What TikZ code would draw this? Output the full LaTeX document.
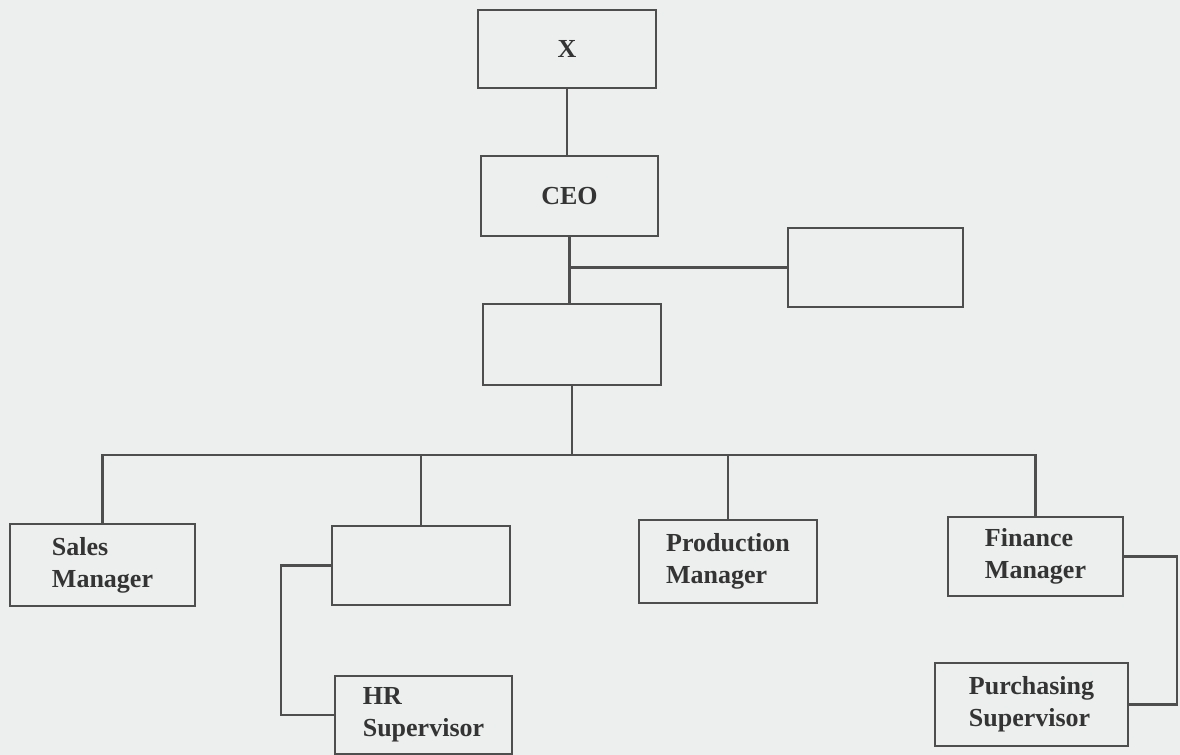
\documentclass[tikz,border=0pt]{standalone}
\usepackage{fontspec}
\setmainfont{Liberation Serif}

\definecolor{paper}{RGB}{237,239,239}
\definecolor{ink}{RGB}{78,78,78}
\definecolor{print}{RGB}{52,52,52}

\tikzset{every picture/.style={line width=1.6pt}}
\tikzset{
  box/.style={draw=ink, line width=1.6pt, align=left, inner sep=0pt,
    text=print, font=\fontsize{19.5}{24}\selectfont\bfseries},
  link/.style={draw=ink, line width=1.6pt}
}

\begin{document}
\begin{tikzpicture}[x=0.75pt,y=0.75pt,yscale=-1,xscale=1]
% page
\fill [paper] (0,0) rectangle (1180,755);
\useasboundingbox (0,0) rectangle (1180,755);

% Top of the chart
\draw (567,49) node [box, minimum width=133.5pt, minimum height=58.5pt] (x) {X};
\draw (569.5,196) node [box, minimum width=132.75pt, minimum height=60pt] (ceo) {CEO};
\draw (875.5,267.5) node [box, minimum width=131.25pt, minimum height=59.25pt] (side) {};
\draw (572,344.5) node [box, minimum width=133.5pt, minimum height=60.75pt] (mid) {};

% Second level
\draw (102.5,565) node [box, minimum width=138.75pt, minimum height=61.5pt] (sales) {Sales\\Manager};
\draw (421,565.5) node [box, minimum width=133.5pt, minimum height=59.25pt] (staff) {};
\draw (728,561.5) node [box, minimum width=133.5pt, minimum height=62.25pt] (prod) {Production\\Manager};
\draw (1035.5,556.5) node [box, minimum width=131.25pt, minimum height=59.25pt] (fin) {Finance\\Manager};

% Third level
\draw (423.5,715) node [box, minimum width=132.75pt, minimum height=58.5pt] (hr) {HR\\Supervisor};
\draw (1031.5,704.5) node [box, minimum width=144.75pt, minimum height=62.25pt] (purch) {Purchasing\\Supervisor};

% Connectors
\draw [link] (x.south) -- (x.south |- ceo.north);
\draw [link] (ceo.south) -- (ceo.south |- mid.north);
\draw [link] (side.west) -- (side.west -| ceo.south);
\draw [link] (sales.north) -- ++(0,-68) coordinate (bus) -| (fin.north);
\draw [link] (mid.south) -- (mid.south |- bus);
\draw [link] (staff.north) -- (staff.north |- bus);
\draw [link] (prod.north) -- (prod.north |- bus);
\draw [link] (staff.west) -- ++(-50,0) |- (hr.west);
\draw [link] (fin.east) -- ++(53,0) |- (purch.east);

\end{tikzpicture}
\end{document}
